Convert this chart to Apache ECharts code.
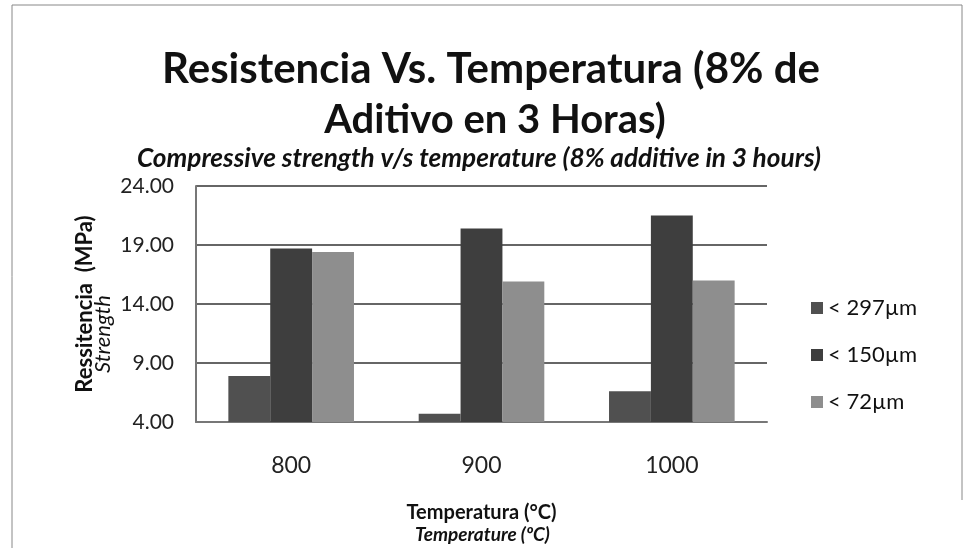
<!DOCTYPE html>
<html>
<head>
<meta charset="utf-8">
<script src="https://cdn.jsdelivr.net/npm/echarts@6/dist/echarts.min.js"></script>
<style>html,body{margin:0;padding:0;background:#fff;}#c{width:965px;height:548px;}</style>
</head>
<body>
<div id="c"></div>
<script>
var categories = ['800', '900', '1000'];
var seriesNames = ['< 297µm', '< 150µm', '< 72µm'];
var s297 = [7.9, 4.7, 6.6];
var s150 = [18.7, 20.4, 21.5];
var s72 = [18.4, 15.9, 16.0];
var yTicks = [4, 9, 14, 19, 24];

var chart = echarts.init(document.getElementById('c'));
var font = 'Lato, "Open Sans", sans-serif';
chart.setOption({
  animation: false,
  backgroundColor: '#fff',
  title: [
    {text: 'Resistencia Vs. Temperatura (8% de', left: 486, textAlign: 'center', top: 43,
     textStyle: {fontFamily: font, fontSize: 42, fontWeight: 'bold', color: '#111'}},
    {text: 'Aditivo en 3 Horas)', left: 490, textAlign: 'center', top: 95,
     textStyle: {fontFamily: font, fontSize: 40, fontWeight: 'bold', color: '#111'}},
    {text: 'Compressive strength v/s temperature (8% additive in 3 hours)', left: 474, textAlign: 'center', top: 141,
     textStyle: {fontFamily: font, fontSize: 26.2, fontWeight: 'bold', fontStyle: 'italic', color: '#111'}}
  ],
  legend: {
    orient: 'vertical', left: 806, top: 292, itemGap: 25,
    itemWidth: 12, itemHeight: 12, icon: 'rect',
    textStyle: {fontFamily: font, fontSize: 22, color: '#111'},
    data: seriesNames
  },
  grid: {left: 196, right: 198, top: 186, bottom: 126},
  xAxis: {
    type: 'category', data: categories,
    name: 'Temperatura (°C)', nameLocation: 'middle', nameGap: 81,
    nameTextStyle: {fontFamily: font, fontSize: 20, fontWeight: 'bold', color: '#111'},
    axisLine: {lineStyle: {color: '#777', width: 2}},
    axisTick: {show: false},
    axisLabel: {fontFamily: font, fontSize: 23, color: '#222', margin: 32}
  },
  yAxis: {
    type: 'value', min: 4, max: 24, interval: 5,
    name: 'Ressitencia  (MPa)', nameLocation: 'middle', nameGap: 100,
    nameTextStyle: {fontFamily: font, fontSize: 22, fontWeight: 'bold', color: '#111'},
    axisLine: {show: true, lineStyle: {color: '#777', width: 2}},
    axisTick: {show: false},
    splitLine: {lineStyle: {color: '#666', width: 2}},
    axisLabel: {fontFamily: font, fontSize: 21, color: '#222', margin: 22,
      formatter: function (v) { return yTicks.indexOf(v) >= 0 ? v.toFixed(2) : ''; }}
  },
  series: [
    {name: seriesNames[0], type: 'bar', data: s297, barGap: '0%', barCategoryGap: '34%', itemStyle: {color: '#505050'}},
    {name: seriesNames[1], type: 'bar', data: s150, itemStyle: {color: '#3e3e3e'}},
    {name: seriesNames[2], type: 'bar', data: s72, itemStyle: {color: '#8e8e8e'}}
  ],
  graphic: [
    {type: 'text', left: 92, top: 295, rotation: Math.PI / 2,
     style: {text: 'Strength', fontFamily: font, fontSize: 22, fontStyle: 'italic', fill: '#111'}},
    {type: 'text', left: 'center', top: 525,
     style: {text: 'Temperature (ºC)', fontFamily: font, fontSize: 19, fontStyle: 'italic', fontWeight: 'bold', fill: '#111'}},
    {type: 'polyline', shape: {points: [[12, 548], [12, 5], [962, 5], [962, 500]]},
     style: {stroke: '#888', lineWidth: 1, fill: null}}
  ]
});
</script>
</body>
</html>
